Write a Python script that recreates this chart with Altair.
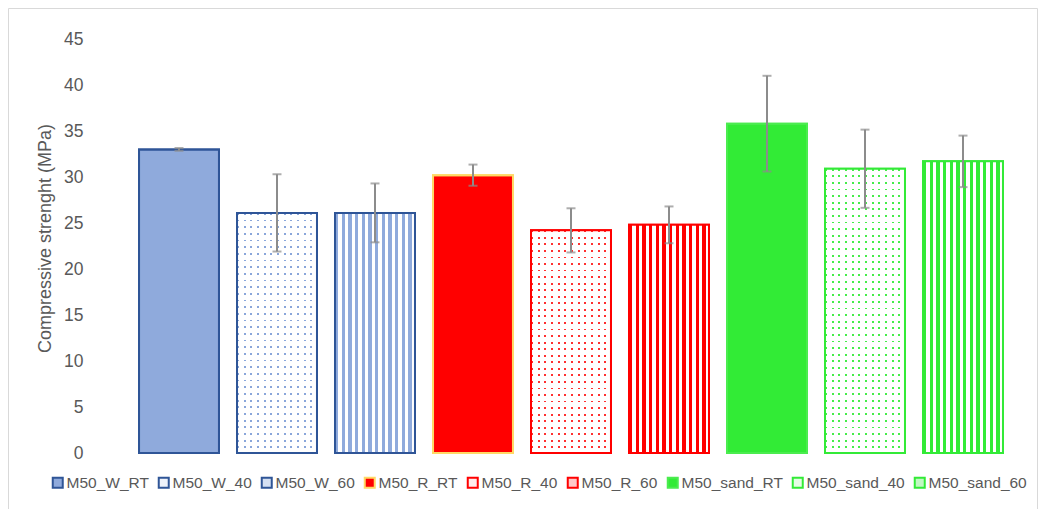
import altair as alt
import pandas as pd

names = ["M50_W_RT", "M50_W_40", "M50_W_60", "M50_R_RT", "M50_R_40", "M50_R_60",
         "M50_sand_RT", "M50_sand_40", "M50_sand_60"]
values = [33.0, 26.1, 26.1, 30.2, 24.2, 24.8, 35.8, 30.9, 31.7]
errors = [0.15, 4.2, 3.2, 1.15, 2.4, 2.0, 5.2, 4.25, 2.8]
patterns = ["solid", "dots", "stripes", "solid", "dots", "stripes", "solid", "dots", "stripes"]
fill_colors = ["#8FAADC", "#EEF2FA", "#D5E0F2", "#FF0000", "#FFECEC", "#FFC9C9",
               "#32EB36", "#E6FCE6", "#C2F8C3"]
stroke_colors = ["#2F5597", "#2F5597", "#2F5597", "#FFD966", "#FF0000", "#FF0000",
                 "#4BEC4F", "#33EA37", "#33EA37"]
pattern_colors = ["#8FAADC", "#8AA6DA", "#8FAADC", "#FF0000", "#FF3030", "#FF0000",
                  "#32EB36", "#45EC49", "#32EB36"]

TITLE = "Compressive strenght (MPa)"
FONT = "Liberation Sans"
GRAY = "#595959"
W, H = 882, 414
PX_PER_UNIT = H / 45.0

df = pd.DataFrame({"name": names, "value": values, "err": errors})
df["lo"] = df["value"] - df["err"]
df["hi"] = df["value"] + df["err"]

xscale = alt.Scale(domain=names, paddingInner=0.184, paddingOuter=0.092)
yscale = alt.Scale(domain=[0, 45], nice=False, zero=True)
yaxis = alt.Axis(values=list(range(0, 46, 5)), grid=False, domain=False, ticks=False,
                 labelFont=FONT, labelFontSize=17.5, labelColor=GRAY, labelPadding=47,
                 titleFont=FONT, titleFontSize=18, titleFontWeight="normal", titleColor=GRAY,
                 titleX=-85, titleY=199, titleAlign="center", titleAngle=270, titleBaseline="middle")


def xenc():
    return alt.X("name:N", sort=names, scale=xscale, axis=None)


def yenc(field):
    return alt.Y(field, scale=yscale, axis=yaxis, title=TITLE)


def stops_stripes(color, n, duty, bg):
    st = []
    for i in range(n):
        a = i / n
        m = (i + duty) / n
        b = (i + 1) / n
        st += [{"offset": a, "color": color}, {"offset": m, "color": color},
               {"offset": m, "color": bg}, {"offset": b, "color": bg}]
    return st


def vgrad(color, n, duty, bg="white"):
    return {"gradient": "linear", "x1": 0, "y1": 0, "x2": 1, "y2": 0,
            "stops": stops_stripes(color, n, duty, bg)}


def hgrad(n, duty):
    # opaque white rows with transparent gaps -> leaves dots visible
    st = []
    for i in range(n):
        a = i / n
        m = (i + duty) / n
        b = (i + 1) / n
        st += [{"offset": a, "color": "rgba(255,255,255,0)"}, {"offset": m, "color": "rgba(255,255,255,0)"},
               {"offset": m, "color": "white"}, {"offset": b, "color": "white"}]
    return {"gradient": "linear", "x1": 0, "y1": 0, "x2": 0, "y2": 1, "stops": st}


base = alt.Chart(df)

bars = base.mark_bar(strokeWidth=2).encode(
    x=xenc(), y=yenc("value:Q"),
    fill=alt.Fill("name:N", scale=alt.Scale(domain=names, range=fill_colors),
                  legend=alt.Legend(title=None)),
    stroke=alt.Stroke("name:N", scale=alt.Scale(domain=names, range=stroke_colors),
                      legend=alt.Legend(title=None)),
)

layers = [bars]
for nm, pat, col, val in zip(names, patterns, pattern_colors, values):
    if pat == "stripes":
        layers.append(base.transform_filter(alt.datum.name == nm)
                      .mark_bar(fill=vgrad(col, 12, 0.5), strokeWidth=0)
                      .encode(x=xenc(), y=yenc("value:Q")))
    elif pat == "dots":
        rows = max(1, round(val * PX_PER_UNIT / 6.6))
        layers.append(base.transform_filter(alt.datum.name == nm)
                      .mark_bar(fill=vgrad(col, 12, 0.28), strokeWidth=0)
                      .encode(x=xenc(), y=yenc("value:Q")))
        layers.append(base.transform_filter(alt.datum.name == nm)
                      .mark_bar(fill=hgrad(rows, 0.28), strokeWidth=0)
                      .encode(x=xenc(), y=yenc("value:Q")))

outline = base.mark_bar(fillOpacity=0, strokeWidth=2).encode(
    x=xenc(), y=yenc("value:Q"),
    stroke=alt.Stroke("name:N", scale=alt.Scale(domain=names, range=stroke_colors), legend=None),
)
layers.append(outline)

err_rule = base.mark_rule(color="#8C8C8C", strokeWidth=2).encode(
    x=xenc(), y=yenc("lo:Q"), y2="hi:Q")
cap_lo = base.mark_tick(color="#8C8C8C", size=9, thickness=2).encode(x=xenc(), y=yenc("lo:Q"))
cap_hi = base.mark_tick(color="#8C8C8C", size=9, thickness=2).encode(x=xenc(), y=yenc("hi:Q"))
layers += [err_rule, cap_lo, cap_hi]

frame = alt.Chart(pd.DataFrame({"f": [0]})).mark_rect(fill="transparent", stroke="#D9D9D9", strokeWidth=1).encode(
    x=alt.value(-121.5), x2=alt.value(W + 25.5), y=alt.value(-30.5), y2=alt.value(H + 80))
layers.append(frame)

chart = alt.layer(*layers).properties(
    width=W, height=H,
    autosize=alt.AutoSizeParams(type="none"),
    padding={"left": 122, "top": 31, "right": 26, "bottom": 56},
    background="white",
).configure_view(stroke=None).configure_legend(
    orient="none", legendX=-80, legendY=436, direction="horizontal",
    symbolType="square", symbolSize=100, symbolStrokeWidth=2,
    labelFont=FONT, labelFontSize=15.5, labelColor=GRAY, labelOffset=1,
    columnPadding=5, padding=0, gridAlign="none",
)

chart.save("out.html", embed_options={"renderer": "svg", "actions": False})
